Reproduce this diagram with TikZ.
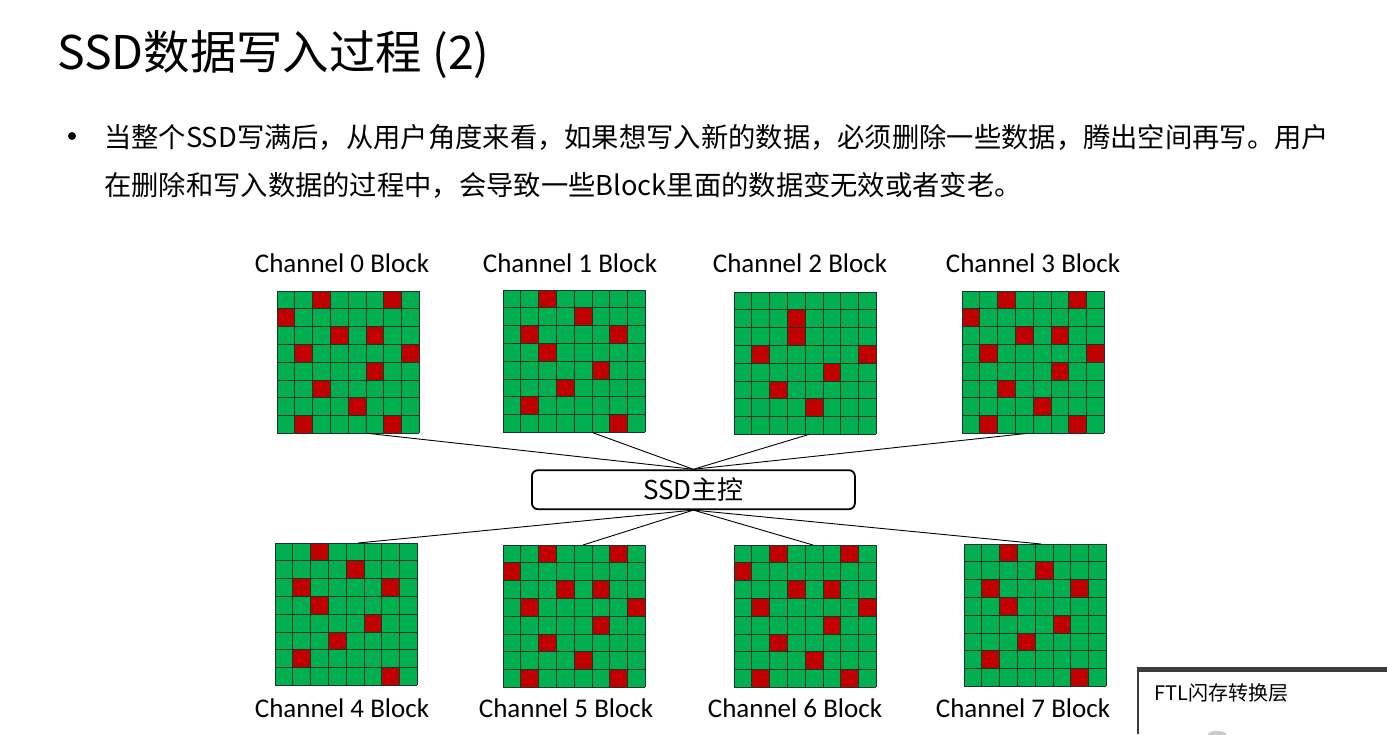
\documentclass[tikz,border=0pt]{standalone}
\usepackage{fontspec}
\setmainfont{Carlito}
\newfontfamily\cjk{Noto Sans CJK SC}
\usetikzlibrary{positioning}

\definecolor{cellgreen}{HTML}{00B050}
\definecolor{cellred}{HTML}{C00000}
\definecolor{cellline}{HTML}{1E3526}
\definecolor{ftlgray}{HTML}{3C3C3C}

\tikzset{
  cellgrid/.style={draw=cellline, line width=0.8pt},
  wire/.style={black, line width=0.9pt},
  ctrlbox/.style={draw, line width=1.8pt, rounded corners=6pt, minimum width=323pt, minimum height=39pt, font=\cjk\fontsize{26}{30}\selectfont},
  chlabel/.style={font=\fontsize{27}{30}\selectfont},
  bodytext/.style={anchor=west, inner sep=0pt, font=\cjk\fontsize{27.3}{32}\selectfont}
}

% red (bad) cells as column/row
\newcommand{\patA}{2/0,6/0,0/1,3/2,5/2,1/3,7/3,5/4,2/5,4/6,1/7,6/7}
\newcommand{\patB}{2/0,4/1,1/2,6/2,2/3,5/4,3/5,1/6,6/7}
\newcommand{\patC}{3/1,3/2,1/3,7/3,5/4,2/5,4/6}

\newcommand{\cellsize}{17.8}
% one 8x8 block: name, x, y, wire point, red cells
\newcommand{\flashblock}[5]{
  \begin{scope}[shift={(#2,#3)}]
    \fill[cellgreen] (0,0) rectangle (8*\cellsize,8*\cellsize);
    \foreach \c/\r in #5
      \fill[cellred] (\c*\cellsize,\r*\cellsize) rectangle ++(\cellsize,\cellsize);
    \foreach \i in {0,...,8} {
      \draw[cellgrid] (\i*\cellsize,0) -- (\i*\cellsize,8*\cellsize);
      \draw[cellgrid] (0,\i*\cellsize) -- (8*\cellsize,\i*\cellsize);
    }
    \coordinate (#1) at (#4);
  \end{scope}
}

\begin{document}
\begin{tikzpicture}[x=1pt, y=-1pt]
  \useasboundingbox[fill=white] (0,0) rectangle (1387,734);

  % title and text
  \node[anchor=west, inner sep=0pt, font=\cjk\fontsize{46.4}{52}\selectfont] (title) at (57,55) {SSD数据写入过程 (2)};
  \node[circle, fill=black, inner sep=0pt, minimum size=8pt] (dot) at (72,136) {};
  \node[bodytext] (line1) at (104,137) {当整个SSD写满后，从用户角度来看，如果想写入新的数据，必须删除一些数据，腾出空间再写。用户};
  \node[bodytext] (line2) at (104,185) {在删除和写入数据的过程中，会导致一些Block里面的数据变无效或者变老。};

  % the eight blocks
  \flashblock{g0}{277}{291}{91,142.4}{\patA}
  \flashblock{g1}{503}{290}{89,142.4}{\patB}
  \flashblock{g2}{734}{292}{75,142.4}{\patC}
  \flashblock{g3}{962}{291}{65,142.4}{\patA}
  \flashblock{g4}{275}{543}{83,0}{\patB}
  \flashblock{g5}{503}{545}{80,0}{\patA}
  \flashblock{g6}{734}{545}{79,0}{\patA}
  \flashblock{g7}{964}{544}{77,0}{\patB}

  % labels
  \foreach \k/\x in {0/342,1/570,2/800,3/1033}
    \node[chlabel] (lab\k) at (\x,263) {Channel \k\ Block};
  \foreach \k/\x in {4/342,5/566,6/795,7/1023}
    \node[chlabel] (lab\k) at (\x,708) {Channel \k\ Block};

  % controller
  \node[ctrlbox] (ctrl) at (693.4,489.7) {SSD主控};
  \foreach \g in {g0,g1,g2,g3}
    \draw[wire] (ctrl.north) -- (\g);
  \foreach \g in {g4,g5,g6,g7}
    \draw[wire] (ctrl.south) -- (\g);

  % FTL box
  \fill[ftlgray] (1137,667) rectangle (1387,672);
  \draw[ftlgray, line width=1.5pt] (1137.8,672) -- (1137.8,734);
  \node[anchor=west, font=\cjk\fontsize{20}{24}\selectfont] (ftl) at (1151,693) {FTL闪存转换层};
  \fill[black!20] (1217,734) ellipse (9 and 3);
\end{tikzpicture}
\end{document}
